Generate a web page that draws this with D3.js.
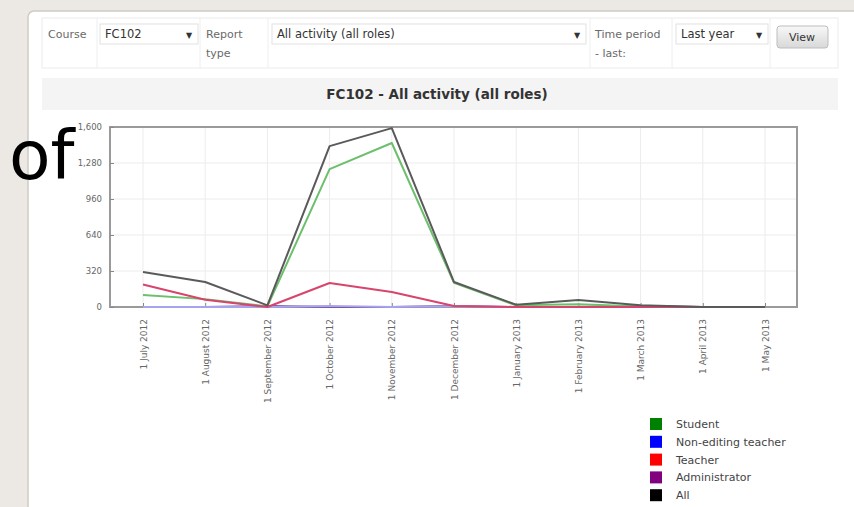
<!DOCTYPE html>
<html>
<head>
<meta charset="utf-8">
<script src="https://cdn.jsdelivr.net/npm/d3@7/dist/d3.min.js"></script>
<style>
  html, body { margin: 0; padding: 0; background: #ece8e3; }
  svg { display: block; }
  text { font-family: "DejaVu Sans", "Liberation Sans", sans-serif; }
</style>
</head>
<body>
<svg id="chart" width="854" height="507"></svg>
<script>
// ---- data ----
const months = ["1 July 2012", "1 August 2012", "1 September 2012", "1 October 2012",
  "1 November 2012", "1 December 2012", "1 January 2013", "1 February 2013",
  "1 March 2013", "1 April 2013", "1 May 2013"];
const studentVals       = [107, 70, 5, 1225, 1458, 215, 15, 25, 5, 0, 0];
const nonEditingVals    = [0, 0, 0, 8, 0, 6, 0, 0, 0, 0, 0];
const teacherVals       = [200, 65, 0, 213, 133, 8, 0, 0, 0, 0, 0];
const administratorVals = [0, 0, 8, 0, 0, 10, 0, 0, 10, 0, 0];
const allVals           = [311, 222, 15, 1430, 1590, 222, 20, 62, 15, 0, 0];
const yTicks = [0, 320, 640, 960, 1280, 1600];
const seriesNames = ["Student", "Non-editing teacher", "Teacher", "Administrator", "All"];
const legendColors = ["#008000", "#0000ff", "#ff0000", "#800080", "#000000"];
const lineColors = ["#6cbf6c", "#a4a4f0", "#d8446c", "#7a3a8a", "#5a5a5a"];
const seriesVals = [studentVals, nonEditingVals, teacherVals, administratorVals, allVals];
const drawOrder = [3, 0, 1, 2, 4];

const svg = d3.select("#chart");

// ---- page panel ----
svg.append("rect").attr("x", 28).attr("y", 11).attr("width", 840).attr("height", 520)
  .attr("rx", 6).attr("fill", "#ffffff").attr("stroke", "#cfcac4").attr("stroke-width", 1.5);

// form row
const form = svg.append("g");
form.append("rect").attr("x", 42).attr("y", 18).attr("width", 796).attr("height", 50)
  .attr("fill", "#fff").attr("stroke", "#ececec");
[97, 200, 268, 590, 672, 770].forEach(x =>
  form.append("line").attr("x1", x).attr("x2", x).attr("y1", 18).attr("y2", 68).attr("stroke", "#eeeeee"));
const lbl = (t, x, y) => form.append("text").attr("x", x).attr("y", y).attr("font-size", 11)
  .attr("fill", "#6a6a6a").text(t);
lbl("Course", 48, 38);
lbl("Report", 206, 38); lbl("type", 206, 57);
lbl("Time period", 595, 38); lbl("- last:", 595, 57);
const sel = (x, w, t) => {
  form.append("rect").attr("x", x).attr("y", 24).attr("width", w).attr("height", 20)
    .attr("fill", "#fff").attr("stroke", "#e2e2e2");
  form.append("text").attr("x", x + 5).attr("y", 38).attr("font-size", 11.5).attr("fill", "#333").text(t);
  form.append("text").attr("x", x + w - 12).attr("y", 38).attr("font-size", 8).attr("fill", "#333").text("▼");
};
sel(100, 98, "FC102");
sel(272, 314, "All activity (all roles)");
sel(676, 92, "Last year");
const grad = svg.append("defs").append("linearGradient").attr("id", "btn").attr("x1", 0).attr("x2", 0).attr("y1", 0).attr("y2", 1);
grad.append("stop").attr("offset", "0").attr("stop-color", "#f8f8f8");
grad.append("stop").attr("offset", "1").attr("stop-color", "#d8d8d8");
form.append("rect").attr("x", 777).attr("y", 26).attr("width", 51).attr("height", 22).attr("rx", 3)
  .attr("fill", "url(#btn)").attr("stroke", "#bdbdbd");
form.append("text").attr("x", 802).attr("y", 41).attr("text-anchor", "middle").attr("font-size", 11)
  .attr("fill", "#333").text("View");

// title bar
svg.append("rect").attr("x", 42).attr("y", 78).attr("width", 796).attr("height", 32).attr("fill", "#f4f4f4");
svg.append("text").attr("x", 437).attr("y", 99).attr("text-anchor", "middle").attr("font-size", 13.5)
  .attr("font-weight", "bold").attr("fill", "#333").text("FC102 - All activity (all roles)");

// ---- chart ----
const plot = { left: 110, right: 797, top: 127, bottom: 307 };
const x = d3.scalePoint().domain(months).range([143, 765]);
const y = d3.scaleLinear().domain([0, 1600]).range([plot.bottom, plot.top]);

const g = svg.append("g");
// grid
g.selectAll("line.vg").data(months).join("line").attr("class", "vg")
  .attr("x1", d => x(d)).attr("x2", d => x(d)).attr("y1", plot.top).attr("y2", plot.bottom)
  .attr("stroke", "#ececec");
g.selectAll("line.hg").data(yTicks).join("line").attr("class", "hg")
  .attr("x1", plot.left).attr("x2", plot.right).attr("y1", d => y(d)).attr("y2", d => y(d))
  .attr("stroke", "#ececec");

// frame
g.append("rect").attr("x", plot.left).attr("y", plot.top)
  .attr("width", plot.right - plot.left).attr("height", plot.bottom - plot.top)
  .attr("fill", "none").attr("stroke", "#9a9a9a").attr("stroke-width", 2);

// y axis labels
const yAxis = g.append("g").attr("transform", `translate(${plot.left},0)`)
  .call(d3.axisLeft(y).tickValues(yTicks).tickFormat(d3.format(",")).tickSize(-4).tickPadding(8));
yAxis.select(".domain").remove();
yAxis.selectAll("line").attr("stroke", "#888");
yAxis.selectAll("text").attr("font-size", 8.5).attr("fill", "#666").attr("font-family", "DejaVu Sans");

// x axis
const xAxis = g.append("g").attr("transform", `translate(0,${plot.bottom})`)
  .call(d3.axisBottom(x).tickSize(-4).tickPadding(0));
xAxis.select(".domain").remove();
xAxis.selectAll("line").attr("stroke", "#888");
xAxis.selectAll("text").attr("font-size", 9).attr("fill", "#666")
  .attr("font-family", "DejaVu Sans")
  .attr("text-anchor", "end").attr("dy", "0.35em")
  .attr("transform", "translate(0,12) rotate(-90)").attr("x", 0).attr("y", 0);

// lines
const line = d3.line().x((d, i) => x(months[i])).y(d => y(d));
drawOrder.forEach(k => {
  g.append("path").datum(seriesVals[k]).attr("d", line).attr("fill", "none")
    .attr("stroke", lineColors[k]).attr("stroke-width", 2)
    .attr("stroke-linejoin", "round");
});

// legend
const leg = svg.append("g");
seriesNames.forEach((n, i) => {
  const yy = 424 + i * 17.8;
  leg.append("rect").attr("x", 650).attr("y", yy - 6).attr("width", 12).attr("height", 12)
    .attr("fill", legendColors[i]);
  leg.append("text").attr("x", 676).attr("y", yy + 4).attr("font-size", 11).attr("fill", "#444").text(n);
});

// overlay word
svg.append("text").attr("x", 9).attr("y", 179).attr("font-size", 68)
  .attr("font-family", "Open Sans").attr("fill", "#000").text("of");
</script>
</body>
</html>
